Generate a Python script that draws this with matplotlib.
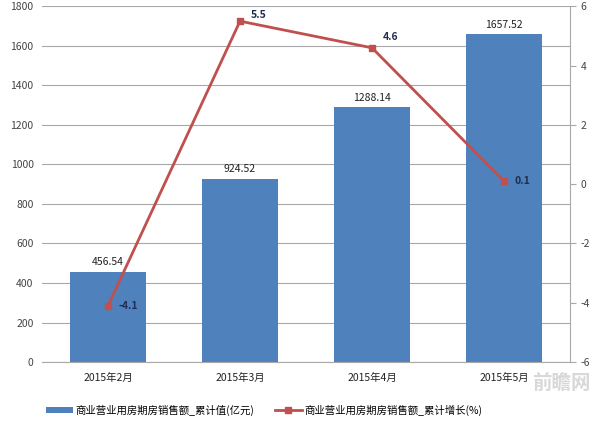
import matplotlib
matplotlib.use("Agg")
import matplotlib.pyplot as plt

plt.rcParams['font.family'] = ['Noto Sans CJK SC', 'DejaVu Sans']
plt.rcParams['axes.unicode_minus'] = False

months = ['2015年2月', '2015年3月', '2015年4月', '2015年5月']
sales_total = [456.54, 924.52, 1288.14, 1657.52]
sales_growth = [-4.1, 5.5, 4.6, 0.1]

bar_name = '商业营业用房期房销售额_累计值(亿元)'
line_name = '商业营业用房期房销售额_累计增长(%)'

bar_color = '#4F81BD'
line_color = '#C0504D'

fig = plt.figure(figsize=(6, 4.22), dpi=100)
ax1 = fig.add_axes([0.07, 0.142, 0.88, 0.843])
ax2 = ax1.twinx()

x = list(range(len(months)))
ax1.bar(x, sales_total, width=0.57, color=bar_color, zorder=2, label=bar_name)
for xi, v in zip(x, sales_total):
    ax1.text(xi, v + 25, f'{v:.2f}', ha='center', va='bottom', fontsize=7.5, color='#222222')

ax1.set_ylim(0, 1800)
ax1.set_yticks(range(0, 1801, 200))
ax1.set_xlim(-0.5, 3.5)
ax1.set_xticks(x)
ax1.set_xticklabels(months)
ax1.grid(axis='y', color='#a8a8a8', linewidth=0.8, zorder=0)
ax1.set_axisbelow(True)
for s in ['top', 'left', 'right']:
    ax1.spines[s].set_visible(False)
ax1.spines['bottom'].set_color('#a8a8a8')
ax1.tick_params(axis='y', length=0, labelsize=7.5, colors='#444444', pad=6)
ax1.tick_params(axis='x', length=0, labelsize=7.5, colors='#222222', pad=8)

ax2.plot(x, sales_growth, color=line_color, linewidth=2, marker='s', markersize=5,
         zorder=3, label=line_name)
# label offsets (dy in %) as in the original chart
label_dy = [0, 0.2, 0.35, 0]
for xi, v, dy in zip(x, sales_growth, label_dy):
    ax2.text(xi + 0.08, v + dy, f'{v}', ha='left', va='center', fontsize=7.5,
             color='#1F2D50', fontweight='bold')
ax2.set_ylim(-6, 6)
ax2.set_yticks(range(-6, 7, 2))
for s in ['top', 'left', 'bottom']:
    ax2.spines[s].set_visible(False)
ax2.spines['right'].set_color('#a8a8a8')
ax2.tick_params(axis='y', length=4, labelsize=7.5, colors='#444444')
ax2.tick_params(axis='y', color='#a8a8a8')

h1, l1 = ax1.get_legend_handles_labels()
h2, l2 = ax2.get_legend_handles_labels()
fig.legend(h1 + h2, l1 + l2, loc='center', bbox_to_anchor=(0.44, 0.028), ncol=2,
           frameon=False, fontsize=7.5, handlelength=2.6, handleheight=0.5,
           columnspacing=2.0, handletextpad=0.2)

fig.text(0.985, 0.075, '前瞻网', fontsize=14, color='#c8c8c8', alpha=0.7,
         fontweight='bold', ha='right', zorder=10)

fig.savefig('out.png', dpi=100)
